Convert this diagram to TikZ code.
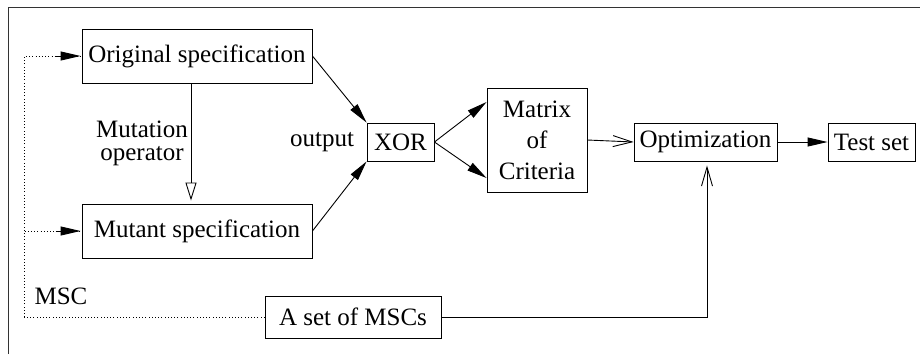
\documentclass[tikz,border=0pt]{standalone}
\usepackage{fontspec}
\newfontfamily\diagfont{Liberation Serif}
\usetikzlibrary{arrows.meta}

\begin{document}
\begin{tikzpicture}[x=1pt,y=-1pt,font=\diagfont\fontsize{25}{30}\selectfont,line width=.9pt,
 box/.style={draw,inner xsep=3pt,inner ysep=0pt,minimum height=38pt},
 fillarrow/.style={-{Triangle[length=20pt,width=9pt]}},
 openarrow/.style={-{Triangle[open,length=18pt,width=11pt]}},
 barbarrow/.style={-{Straight Barb[length=19pt,width=11pt]}},
 dotline/.style={dash pattern=on .8pt off 2.4pt}]
\useasboundingbox (0,0) rectangle (920,354);
\draw[line width=1.6pt,black!80] (8.5,354) |- (920,7.5);
\node[box,minimum width=230pt,minimum height=54pt] (orig) at (197,56) {Original specification};
\node[box,minimum width=230pt,minimum height=54pt] (mut) at (197,231) {Mutant specification};
\node[box,minimum width=67pt] (xor) at (400.5,142) {XOR};
\node[box,minimum width=100pt,minimum height=104pt,align=center,
 font=\diagfont\fontsize{25}{31}\selectfont] (matrix) at (537,140) {Matrix\\of\\Criteria};
\node[box,minimum width=143pt] (opt) at (705.5,142) {Optimization};
\node[box,minimum width=87pt] (test) at (871.5,142) {Test set};
\node[box,minimum width=176pt,minimum height=42pt] (mscs) at (353,317) {A set of MSCs};
\node (output) at (322,142) {output};
\node[align=center,font=\diagfont\fontsize{25}{23}\selectfont] (mutop) at (142,143) {Mutation\\operator};
\node (msc) at (61,296) {MSC};
% connectors
\draw[openarrow,shorten >=3pt] ([xshift=-6pt]orig.south) -- ([xshift=-6pt]mut.north);
\draw[fillarrow] (orig.east) -- (xor.north west);
\draw[fillarrow] (mut.east) -- (xor.south west);
\draw[fillarrow] (xor.east) -- (matrix.143);
\draw[fillarrow] (xor.east) -- (matrix.217);
\draw[barbarrow] (matrix.east) -- (opt.west);
\draw[fillarrow] (opt.east) -- (test.west);
\draw[barbarrow,shorten >=4pt] (mscs.east) -| ([xshift=1.5pt]opt.south);
\draw[dotline] (mscs.west) -| ([xshift=-57pt]orig.west) -- (orig.west);
\draw[dotline] ([xshift=-57pt]mut.west) -- (mut.west);
\draw[fillarrow,shorten >=1pt] ([xshift=-26pt]orig.west) -- (orig.west);
\draw[fillarrow,shorten >=1pt] ([xshift=-26pt]mut.west) -- (mut.west);
\end{tikzpicture}
\end{document}
